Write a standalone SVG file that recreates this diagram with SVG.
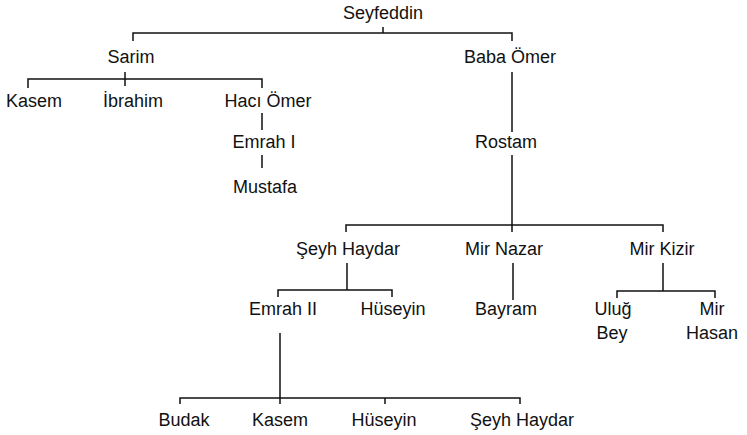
<svg xmlns="http://www.w3.org/2000/svg" width="747" height="435" viewBox="0 0 747 435">
<style>
text{font-family:"Liberation Sans",Arial,sans-serif;font-size:18px;fill:#111;text-anchor:middle}
.c{fill:none;stroke:#111;stroke-width:1.5}
</style>
<rect width="747" height="435" fill="#fff"/>
<g id="connectors" class="c">
<path d="M383 27V33M133 41V33H512V41"/>
<path d="M125 72V86M28 88V79H262V88"/>
<path d="M262 113V130M262 155V168"/>
<path d="M512 72V132M512 155V232"/>
<path d="M346 232V225H663V232"/>
<path d="M513 263V300"/>
<path d="M347 263V290M278 297V290H392V297"/>
<path d="M663 263V291M617 298V291H715V298"/>
<path d="M280 333V404M180 404V398H520V404M385 398V404"/>
</g>
<g id="n-seyfeddin"><text x="383" y="19">Seyfeddin</text></g>
<g id="n-sarim"><text x="131" y="63">Sarim</text></g>
<g id="n-babaomer"><text x="510" y="63">Baba Ömer</text></g>
<g id="n-kasem1"><text x="34" y="107">Kasem</text></g>
<g id="n-ibrahim"><text x="133" y="107">İbrahim</text></g>
<g id="n-haciomer"><text x="268" y="107">Hacı Ömer</text></g>
<g id="n-emrah1"><text x="264" y="148">Emrah I</text></g>
<g id="n-mustafa"><text x="265" y="193">Mustafa</text></g>
<g id="n-rostam"><text x="506" y="148">Rostam</text></g>
<g id="n-seyhhaydar1"><text x="348" y="255">Şeyh Haydar</text></g>
<g id="n-mirnazar"><text x="504" y="255">Mir Nazar</text></g>
<g id="n-mirkizir"><text x="662" y="255">Mir Kizir</text></g>
<g id="n-emrah2"><text x="283" y="315">Emrah II</text></g>
<g id="n-huseyin1"><text x="393" y="315">Hüseyin</text></g>
<g id="n-bayram"><text x="506" y="315">Bayram</text></g>
<g id="n-ulugbey"><text x="613" y="315">Uluğ</text><text x="612" y="339">Bey</text></g>
<g id="n-mirhasan"><text x="712" y="315">Mir</text><text x="712" y="339">Hasan</text></g>
<g id="n-budak"><text x="184" y="426">Budak</text></g>
<g id="n-kasem2"><text x="280" y="426">Kasem</text></g>
<g id="n-huseyin2"><text x="384" y="426">Hüseyin</text></g>
<g id="n-seyhhaydar2"><text x="522" y="426">Şeyh Haydar</text></g>
</svg>
